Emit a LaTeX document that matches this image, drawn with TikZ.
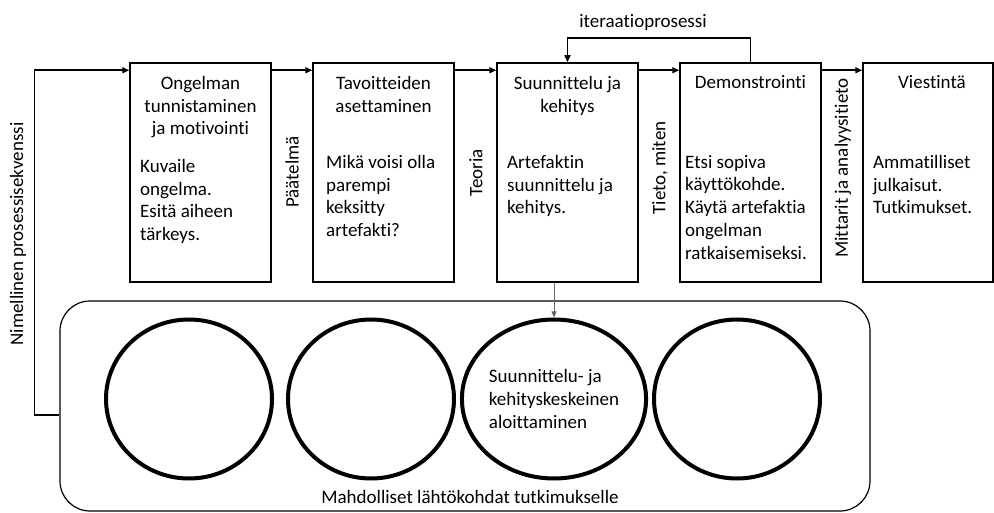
\documentclass[tikz,border=0pt]{standalone}
\usepackage{fontspec}
\setmainfont{Carlito}[Ligatures={TeX,NoCommon}]
\usetikzlibrary{shapes.geometric,arrows.meta,positioning}

\begin{document}
\begin{tikzpicture}[x=1pt,y=-1pt,font=\fontsize{19}{22.7}\selectfont,
  vaihe/.style={draw,line width=1.5pt,minimum width=141pt,minimum height=219pt,inner sep=0pt},
  lahto/.style={draw,ellipse,line width=4pt,minimum width=166pt,minimum height=159pt,inner sep=0pt,align=left},
  otsikko/.style={anchor=north,align=center,inner sep=0pt},
  teksti/.style={anchor=north west,align=left,inner sep=0pt},
  vali/.style={rotate=90,inner sep=0pt},
  nuoli/.style={-{Triangle[length=7pt,width=6pt]},line width=1.5pt},
  ohut/.style={-{Triangle[length=6pt,width=5pt]},line width=0.8pt,black!60}]
\useasboundingbox (0,0) rectangle (994,513);
% vaiheet
\node[vaihe] (b1) at (200.5,172.5){};
\node[vaihe] (b2) at (383.5,172.5){};
\node[vaihe] (b3) at (567.5,172.5){};
\node[vaihe] (b4) at (750.5,172.5){};
\node[vaihe,minimum width=130pt] (b5) at (928,172.5){};
\node[otsikko] at (200.5,76){Ongelman\\tunnistaminen\\ja motivointi};
\node[teksti] at (140,159){Kuvaile\\ongelma.\\Esitä aiheen\\tärkeys.};
\node[otsikko] at (383.5,76){Tavoitteiden\\asettaminen};
\node[teksti] at (326,155){Mikä voisi olla\\parempi\\keksitty\\artefakti?};
\node[otsikko] at (567.5,76){Suunnittelu ja\\kehitys};
\node[teksti] at (507,155){Artefaktin\\suunnittelu ja\\kehitys.};
\node[otsikko] at (750.5,75){Demonstrointi};
\node[teksti] at (685,155){Etsi sopiva\\käyttökohde.\\Käytä artefaktia\\ongelman\\ratkaisemiseksi.};
\node[otsikko] at (932,75){Viestintä};
\node[teksti] at (873,155){Ammatilliset\\julkaisut.\\Tutkimukset.};
% valitulokset
\node[vali] (paatelma) at (292,172){Päätelmä};
\node[vali] (teoria) at (476,173){Teoria};
\node[vali] (tieto) at (660,168){Tieto, miten};
\node[vali] (mittarit) at (843,168){Mittarit ja analyysitieto};
\node[vali] (nimellinen) at (18,234){Nimellinen prosessisekvenssi};
% lahtokohdat
\node[draw,line width=1.2pt,rounded corners=30pt,minimum width=810pt,minimum height=210pt,inner sep=0pt] (kehys) at (465,406){};
\foreach \n/\x in {c1/189,c2/371,c4/737}
   \node[lahto] (\n) at (\x,399){};
\node[lahto] (c3) at (554,399){Suunnittelu- ja\\kehityskeskeinen\\aloittaminen};
\node (mahd) at (470,497){Mahdolliset lähtökohdat tutkimukselle};
% nuolet
\foreach \a/\b in {b1/b2,b2/b3,b3/b4,b4/b5}
   \draw[nuoli] ([yshift=-8pt]\a.north east) -- ([yshift=-8pt]\b.north west);
\draw[nuoli] ([yshift=-9pt]kehys.west) -- ++(-25,0) |- ([yshift=-8pt]b1.north west);
\draw[nuoli] (b4.north) -- ++(0,-24) -| (b3.north);
\node (iter) at (643,22){iteraatioprosessi};
\draw[ohut] (c3.north |- b3.south) -- (c3.north);
\end{tikzpicture}
\end{document}
